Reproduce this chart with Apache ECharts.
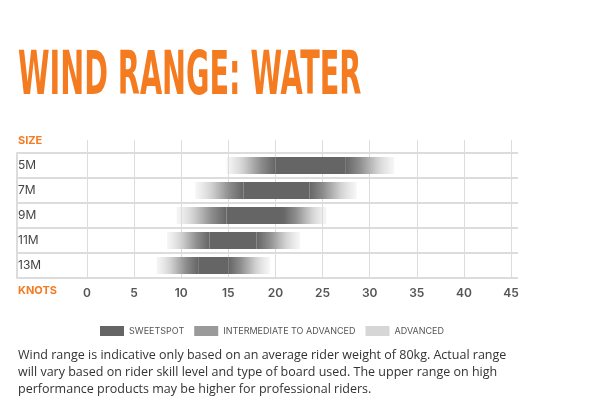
<!DOCTYPE html>
<html>
<head>
<meta charset="utf-8">
<script src="https://cdn.jsdelivr.net/npm/echarts@6/dist/echarts.min.js"></script>
<style>html,body{margin:0;padding:0;background:#fff}#chart{width:612px;height:404px}</style>
</head>
<body>
<div id="chart"></div>
<script>
// sizes, bottom row first for the category axis
var sizes = ['13M', '11M', '9M', '7M', '5M'];
var rangeStart = [7.4, 8.5, 9.5, 11.5, 14.8];
var sweetStart = [11.8, 13, 14.8, 16.6, 20];
var sweetEnd = [15, 18, 20.8, 23.6, 27.4];
var rangeEnd = [19.4, 22.6, 25.4, 28.6, 32.6];
var knotTicks = [0, 5, 10, 15, 20, 25, 30, 35, 40, 45];

var ORANGE = '#f47b20';
var DARK = '#656565';

function diff(a, b) { return a.map(function (v, i) { return +(v - b[i]).toFixed(2); }); }

var myChart = echarts.init(document.getElementById('chart'));
var option = {
	animation: false,
	grid: [
		{ left: 87, right: 101, top: 140, height: 138 },
		{ left: 17, right: 94, top: 153, height: 125 },
		{ left: 87, right: 101, top: 153, height: 125 }
	],
	xAxis: [
		{ gridIndex: 0, type: 'value', min: 0, max: 45, interval: 5, axisLine: { show: false }, axisTick: { show: false }, axisLabel: { show: false }, splitLine: { lineStyle: { color: '#dcdcdc', width: 1 } } },
		{ gridIndex: 1, type: 'value', show: false },
		{ gridIndex: 2, type: 'value', min: 0, max: 45, interval: 5, splitLine: { show: false }, axisLine: { show: false }, axisTick: { show: false },
			axisLabel: { margin: 9, color: '#555', fontFamily: 'Inter', fontWeight: 600, fontSize: 12,
				formatter: function (v) { return knotTicks.indexOf(v) >= 0 ? String(v) : ''; } } }
	],
	yAxis: [
		{ gridIndex: 0, type: 'value', show: false },
		{ gridIndex: 1, type: 'category', data: sizes, axisLine: { lineStyle: { color: '#dcdcdc', width: 2 } }, axisTick: { show: false }, axisLabel: { show: false },
			splitLine: { show: true, lineStyle: { color: '#dcdcdc', width: 2 } } },
		{ gridIndex: 2, type: 'category', data: sizes, axisLine: { show: false }, axisTick: { show: false },
			axisLabel: { align: 'left', margin: 69, color: '#444', fontFamily: 'Inter', fontSize: 12 } }
	],
	legend: {
		data: ['SWEETSPOT', 'INTERMEDIATE TO ADVANCED', 'ADVANCED'],
		top: 321, left: 95, itemWidth: 24, itemHeight: 10, itemGap: 10,
		icon: 'rect',
		textStyle: { color: '#555', fontFamily: 'Inter', fontSize: 9 }
	},
	series: [
		{ name: 'base', type: 'bar', stack: 'r', xAxisIndex: 2, yAxisIndex: 2, barWidth: 17, data: rangeStart, itemStyle: { color: 'transparent' } },
		{ name: 'fadeIn', type: 'bar', stack: 'r', xAxisIndex: 2, yAxisIndex: 2, data: diff(sweetStart, rangeStart),
			itemStyle: { color: new echarts.graphic.LinearGradient(0, 0, 1, 0, [
				{ offset: 0, color: 'rgba(225,225,225,0.3)' }, { offset: 0.35, color: '#cfcfcf' },
				{ offset: 0.7, color: '#8e8e8e' }, { offset: 1, color: DARK }]) } },
		{ name: 'sweet', type: 'bar', stack: 'r', xAxisIndex: 2, yAxisIndex: 2, data: diff(sweetEnd, sweetStart), itemStyle: { color: DARK } },
		{ name: 'fadeOut', type: 'bar', stack: 'r', xAxisIndex: 2, yAxisIndex: 2, data: diff(rangeEnd, sweetEnd),
			itemStyle: { color: new echarts.graphic.LinearGradient(0, 0, 1, 0, [
				{ offset: 0, color: DARK }, { offset: 0.3, color: '#8e8e8e' },
				{ offset: 0.65, color: '#cfcfcf' }, { offset: 1, color: 'rgba(225,225,225,0.3)' }]) } },
		{ name: 'SWEETSPOT', type: 'bar', xAxisIndex: 1, yAxisIndex: 1, data: [], itemStyle: { color: DARK } },
		{ name: 'INTERMEDIATE TO ADVANCED', type: 'bar', xAxisIndex: 1, yAxisIndex: 1, data: [], itemStyle: { color: '#9a9a9a' } },
		{ name: 'ADVANCED', type: 'bar', xAxisIndex: 1, yAxisIndex: 1, data: [], itemStyle: { color: '#d6d6d6' } }
	],
	graphic: [
		{ type: 'text', x: 18, y: 48, scaleX: 0.53, style: { text: 'WIND RANGE: WATER', fill: ORANGE, font: 'bold 60px "Liberation Sans Narrow", "DejaVu Sans Condensed", sans-serif' } },
		{ type: 'text', left: 18, top: 135, style: { text: 'SIZE', fill: ORANGE, font: 'bold 11px Inter' } },
		{ type: 'text', left: 18, top: 285, style: { text: 'KNOTS', fill: ORANGE, font: 'bold 11px Inter' } },
		{ type: 'text', left: 18, top: 347, style: {
			text: 'Wind range is indicative only based on an average rider weight of 80kg. Actual range\nwill vary based on rider skill level and type of board used. The upper range on high\nperformance products may be higher for professional riders.',
			fill: '#333', font: '12.5px "Open Sans"', lineHeight: 17 } }
	]
};
myChart.setOption(option);
</script>
</body>
</html>
